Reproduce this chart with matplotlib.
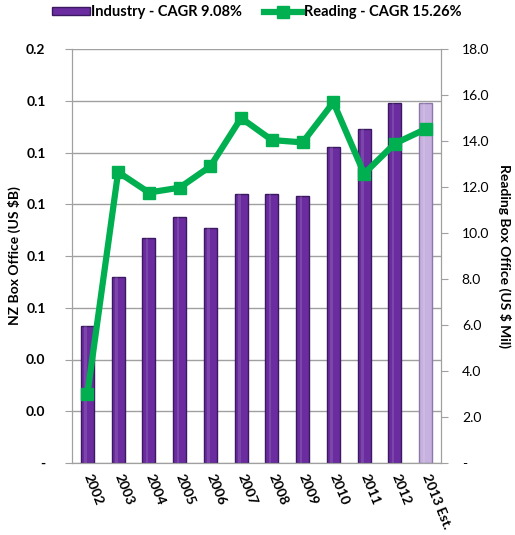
import numpy as np
import matplotlib.pyplot as plt

years = ["2002", "2003", "2004", "2005", "2006", "2007", "2008", "2009",
         "2010", "2011", "2012", "2013 Est."]
industry = [0.053, 0.072, 0.087, 0.095, 0.091, 0.104, 0.104, 0.103,
            0.122, 0.129, 0.139, 0.139]
reading = [3.0, 12.65, 11.76, 11.97, 12.9, 15.0, 14.04, 13.94,
           15.68, 12.58, 13.89, 14.52]

plt.rcParams['font.family'] = ['Lato', 'DejaVu Sans']

fig = plt.figure(figsize=(5.15, 5.35), dpi=100)
ax = fig.add_axes([72 / 515, 1 - 463 / 535, 369 / 515, 414 / 535])
ax2 = ax.twinx()

x = np.arange(len(years))
colors = ['#6a2c9f'] * (len(years) - 1) + ['#c6b1df']
edges = ['#3c1860'] * (len(years) - 1) + ['#8c78a8']
bars = ax.bar(x, industry, width=0.43, color=colors, edgecolor=edges,
              linewidth=1.0, zorder=2)
# light stripe to hint at the cylinder look
ax.bar(x - 0.06, industry, width=0.08, color='white', alpha=0.12,
       linewidth=0, zorder=3)

ax.set_xlim(-0.5, len(years) - 0.5)
ax.set_ylim(0, 0.16)
ax.set_yticks(np.arange(0, 0.161, 0.02))
ax.set_yticklabels(['-' if v < 1e-9 else f"{v:.1f}" for v in np.arange(0, 0.161, 0.02)],
                   fontweight='bold', fontsize=10)
ax.yaxis.grid(True, color='#a0a0a0', linewidth=1.0, zorder=0)
ax.set_axisbelow(True)
ax.set_xticks(x)
ax.set_xticklabels(years, rotation=-68, rotation_mode='anchor', ha='left',
                   va='center', fontweight='bold', fontsize=10)
ax.tick_params(axis='x', length=0, pad=8)
ax.tick_params(axis='y', length=5, color='#a0a0a0', pad=14)
ax.set_ylabel("NZ Box Office (US $B)", fontweight='bold', fontsize=10, labelpad=4)

ax2.plot(x, reading, color='#00b050', linewidth=4.5, marker='s',
         markersize=9, zorder=5)
ax2.set_ylim(0, 18)
ax2.set_yticks(np.arange(0, 18.1, 2))
ax2.set_yticklabels(['-' if v == 0 else f"{v:.1f}" for v in np.arange(0, 18.1, 2)],
                    fontsize=10)
ax2.tick_params(axis='y', length=5, color='#a0a0a0', pad=10)
ax2.set_ylabel("Reading Box Office (US $ Mil)", fontweight='bold', fontsize=10,
               rotation=-90, labelpad=16)

for a in (ax, ax2):
    a.spines['top'].set_visible(False)
    for s in ('left', 'right', 'bottom'):
        a.spines[s].set_color('#a0a0a0')

ax.legend([bars[0], ax2.lines[0]],
          ["Industry - CAGR 9.08%", "Reading - CAGR 15.26%"],
          loc='lower center', bbox_to_anchor=(0.5, 1.04), ncol=2, frameon=False,
          prop={'weight': 'bold', 'size': 10.5}, handlelength=2.6,
          handleheight=0.45, handletextpad=0.1, columnspacing=1.5)

fig.savefig("out.png", dpi=100)
